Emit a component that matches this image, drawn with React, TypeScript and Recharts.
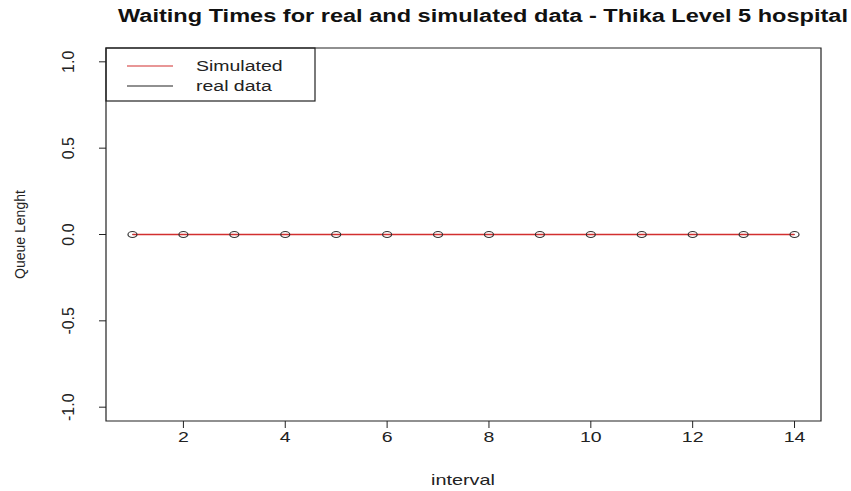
import React from 'react';
import { LineChart, Line, XAxis, YAxis, ReferenceArea } from 'recharts';

const intervals = [1, 2, 3, 4, 5, 6, 7, 8, 9, 10, 11, 12, 13, 14];
const simulated = [0, 0, 0, 0, 0, 0, 0, 0, 0, 0, 0, 0, 0, 0];
const realData = [0, 0, 0, 0, 0, 0, 0, 0, 0, 0, 0, 0, 0, 0];
const xTicks = [2, 4, 6, 8, 10, 12, 14];
const yTicks = [-1, -0.5, 0, 0.5, 1];
const legendItems = [
  { label: 'Simulated', color: '#d22f2f' },
  { label: 'real data', color: '#222' },
];

const data = intervals.map((x, i) => ({ x, real: realData[i], sim: simulated[i] }));

const FONT = '"Liberation Sans", Arial, sans-serif';
const RED = '#d22f2f';

const OpenCircle = (props: any) => {
  const { cx, cy, index } = props;
  if (cx == null || cy == null) return null;
  return <ellipse key={`dot-${index}`} cx={cx} cy={cy} rx={4.5} ry={3} fill="none" stroke="#333" strokeWidth={1.2} />;
};

const YTick = (props: any) => {
  const { x, y, payload } = props;
  return (
    <text
      transform={`translate(${x - 29}, ${y}) rotate(-90)`}
      textAnchor="middle"
      dominantBaseline="central"
      fontFamily={FONT}
      fontSize={16}
      fill="#222"
    >
      {Number(payload.value).toFixed(1)}
    </text>
  );
};

const XTick = (props: any) => {
  const { x, y, payload } = props;
  return (
    <text x={x} y={y} dy={12} textAnchor="middle" fontFamily={FONT} fontSize={15} fill="#222"
      transform={`translate(${x}, 0) scale(1.3, 1) translate(${-x}, 0)`}>
      {payload.value}
    </text>
  );
};

// legend drawn as svg inside the chart so it does not take plot space
const LegendBox = () => (
  <g>
    <rect x={106} y={48} width={209} height={53} fill="#fff" stroke="#222" strokeWidth={1.2} />
    {legendItems.map((item, i) => {
      const y = 66 + i * 20;
      return (
        <g key={item.label}>
          <line x1={127} x2={173} y1={y} y2={y} stroke={item.color} strokeWidth={1.2} />
          <text x={196} y={y + 5} fontFamily={FONT} fontSize={15} fill="#222"
            transform={`translate(196, 0) scale(1.3, 1) translate(-196, 0)`}>
            {item.label}
          </text>
        </g>
      );
    })}
  </g>
);

export default function App() {
  return (
    <div style={{ position: 'absolute', left: 0, top: 0, background: '#fff' }}>
      <LineChart width={851} height={491} data={data} margin={{ top: 48, right: 30, bottom: 0, left: 8 }}>
        <text x={118} y={22} fontFamily={FONT} fontSize={18} fontWeight="bold" fill="#111"
          textLength={730} lengthAdjust="spacingAndGlyphs">
          Waiting Times for real and simulated data - Thika Level 5 hospital
        </text>
        <XAxis
          dataKey="x"
          type="number"
          domain={[0.48, 14.52]}
          ticks={xTicks}
          axisLine={false}
          tickSize={7}
          tickLine={{ stroke: '#222' }}
          tick={<XTick />}
          height={70}
        />
        <YAxis
          type="number"
          domain={[-1.08, 1.08]}
          ticks={yTicks}
          axisLine={false}
          tickSize={7}
          tickLine={{ stroke: '#222' }}
          tick={<YTick />}
          width={98}
          label={{ value: 'Queue Lenght', angle: -90, position: 'insideLeft', offset: 12, style: { fontFamily: FONT, fontSize: 14, fill: '#222', textAnchor: 'middle' } }}
        />
        <text x={463} y={485} textAnchor="middle" fontFamily={FONT} fontSize={15} fill="#222"
          textLength={64} lengthAdjust="spacingAndGlyphs">
          interval
        </text>
        <ReferenceArea x1={0.48} x2={14.52} y1={-1.08} y2={1.08} fill="none" stroke="#222" strokeWidth={1.2} />
        <Line dataKey="real" name="real data" stroke="#222" strokeWidth={1} dot={<OpenCircle />} isAnimationActive={false} />
        <Line dataKey="sim" name="Simulated" stroke={RED} strokeWidth={1.3} dot={false} isAnimationActive={false} />
        <LegendBox />
      </LineChart>
    </div>
  );
}
